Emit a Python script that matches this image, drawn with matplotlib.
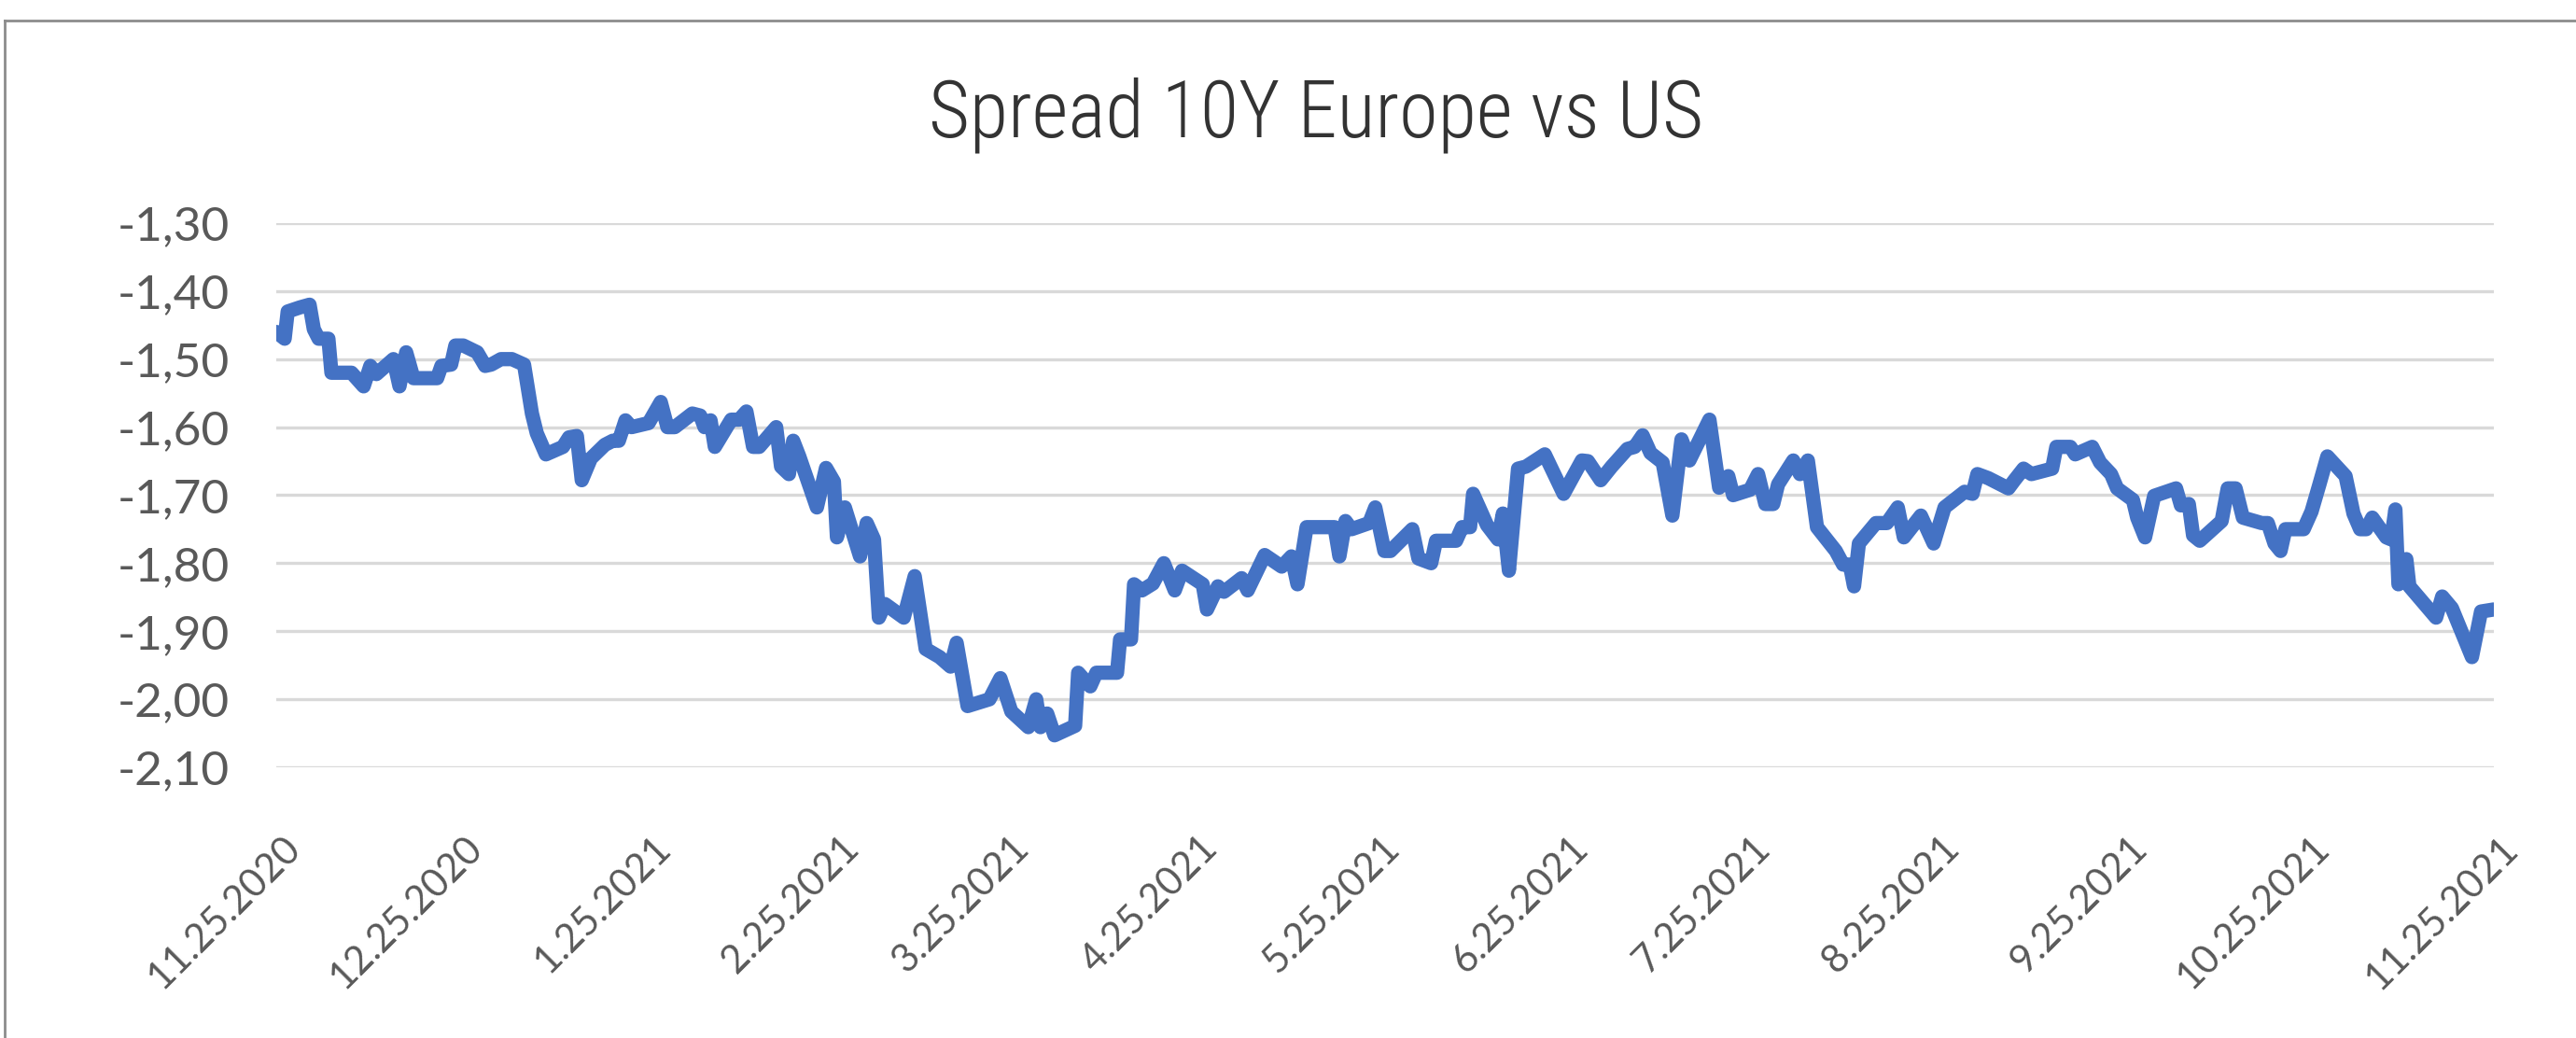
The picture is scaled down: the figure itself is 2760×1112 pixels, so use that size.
import matplotlib
matplotlib.use('Agg')
import matplotlib.pyplot as plt
from matplotlib.lines import Line2D
from matplotlib.transforms import ScaledTranslation
import pandas as pd

TITLE = 'Spread 10Y Europe vs US'
START = pd.Timestamp('2020-11-25')

# days after 11.25.2020 and spread (turning points)
days = [0.0, 1.4, 1.9, 3.9, 5.5, 6.2, 7.0, 8.6, 9.1, 12.4, 14.4, 15.5, 16.5, 19.3, 20.3,
        21.4, 22.6, 26.5, 27.2, 28.8, 29.5, 30.8, 33.1, 34.4, 35.4, 37.0, 38.8, 40.8,
        42.1, 42.9, 44.4, 47.2, 48.2, 49.5, 50.3, 51.8, 54.1, 55.4, 56.4, 57.5, 58.5,
        61.3, 63.3, 64.4, 65.6, 68.5, 69.8, 70.5, 71.5, 72.2, 74.9, 76.2, 77.4, 78.5,
        79.5, 82.3, 83.1, 84.4, 85.1, 86.1, 89.0, 90.5, 91.8, 92.3, 93.6, 96.1, 97.2,
        98.4, 99.2, 100.2, 103.3, 105.1, 106.9, 109.2, 111.0, 112.0, 113.8, 117.4,
        119.2, 121.0, 123.8, 125.1, 125.8, 126.9, 128.1, 131.5, 132.0, 134.0, 135.0,
        138.4, 138.9, 140.7, 141.2, 142.5, 144.3, 146.1, 147.9, 149.1, 152.5, 153.2,
        155.0, 156.0, 158.9, 159.9, 162.7, 165.5, 167.1, 168.1, 169.6, 174.2, 175.0,
        176.0, 177.0, 179.9, 180.9, 182.4, 183.4, 187.0, 188.0, 190.1, 190.9, 194.2,
        195.2, 196.5, 197.0, 199.3, 201.1, 201.9, 202.9, 204.4, 205.7, 208.8, 211.9,
        214.9, 215.9, 218.0, 219.8, 222.4, 223.6, 224.9, 226.2, 228.2, 229.8, 231.3,
        232.6, 235.9, 237.5, 239.0, 239.8, 242.6, 243.9, 245.1, 246.4, 247.2, 249.7,
        250.8, 252.1, 253.6, 256.7, 257.9, 259.0, 259.7, 260.5, 263.3, 265.1, 266.9,
        267.9, 270.7, 272.8, 274.6, 277.9, 279.2, 280.0, 281.8, 285.1, 286.1, 287.6,
        288.9, 292.3, 293.0, 295.3, 296.1, 298.9, 300.2, 302.0, 303.0, 305.6, 306.3,
        307.6, 309.1, 312.7, 313.5, 314.8, 315.5, 316.6, 320.2, 321.2, 322.5, 323.7,
        326.8, 327.8, 328.9, 329.9, 330.7, 333.7, 335.0, 336.3, 337.6, 340.6, 341.9,
        343.0, 344.0, 345.0, 347.3, 348.1, 348.8, 349.3, 350.6, 351.1, 355.5, 356.5,
        358.1, 361.4, 362.9, 365.0]
spread = [-1.460, -1.470, -1.430, -1.424, -1.420, -1.456, -1.470, -1.470, -1.520, -1.520,
          -1.540, -1.510, -1.522, -1.500, -1.540, -1.490, -1.528, -1.528, -1.510, -1.508,
          -1.480, -1.480, -1.490, -1.510, -1.508, -1.500, -1.500, -1.508, -1.580, -1.609,
          -1.640, -1.629, -1.615, -1.613, -1.678, -1.646, -1.626, -1.620, -1.620, -1.590,
          -1.600, -1.594, -1.563, -1.600, -1.600, -1.580, -1.583, -1.600, -1.590, -1.629,
          -1.589, -1.589, -1.577, -1.629, -1.629, -1.600, -1.658, -1.669, -1.620, -1.643,
          -1.718, -1.660, -1.680, -1.762, -1.718, -1.790, -1.741, -1.765, -1.880, -1.860,
          -1.880, -1.819, -1.926, -1.938, -1.952, -1.917, -2.010, -2.000, -1.969, -2.018,
          -2.041, -2.000, -2.041, -2.021, -2.053, -2.039, -1.961, -1.981, -1.961, -1.961,
          -1.912, -1.912, -1.831, -1.840, -1.830, -1.800, -1.840, -1.811, -1.831, -1.868,
          -1.834, -1.842, -1.822, -1.840, -1.788, -1.805, -1.790, -1.831, -1.747, -1.747,
          -1.790, -1.738, -1.750, -1.741, -1.718, -1.782, -1.782, -1.750, -1.793, -1.800,
          -1.767, -1.767, -1.747, -1.747, -1.698, -1.744, -1.765, -1.727, -1.811, -1.661,
          -1.658, -1.640, -1.698, -1.649, -1.650, -1.678, -1.658, -1.632, -1.629, -1.612,
          -1.638, -1.652, -1.730, -1.618, -1.649, -1.589, -1.689, -1.672, -1.700, -1.692,
          -1.669, -1.713, -1.713, -1.684, -1.649, -1.669, -1.649, -1.747, -1.782, -1.802,
          -1.802, -1.834, -1.771, -1.741, -1.741, -1.718, -1.762, -1.730, -1.771, -1.718,
          -1.695, -1.698, -1.669, -1.675, -1.690, -1.678, -1.661, -1.669, -1.661, -1.629,
          -1.629, -1.640, -1.629, -1.652, -1.669, -1.690, -1.707, -1.733, -1.762, -1.701,
          -1.690, -1.715, -1.713, -1.759, -1.767, -1.738, -1.690, -1.690, -1.733, -1.741,
          -1.741, -1.771, -1.782, -1.750, -1.750, -1.724, -1.684, -1.643, -1.672, -1.727,
          -1.750, -1.750, -1.733, -1.762, -1.765, -1.721, -1.831, -1.794, -1.834, -1.880,
          -1.849, -1.866, -1.938, -1.871, -1.868]

tick_dates = ['2020-11-25', '2020-12-25', '2021-01-25', '2021-02-25', '2021-03-25',
              '2021-04-25', '2021-05-25', '2021-06-25', '2021-07-25', '2021-08-25',
              '2021-09-25', '2021-10-25', '2021-11-25']
tick_labels = ['11.25.2020', '12.25.2020', '1.25.2021', '2.25.2021', '3.25.2021',
               '4.25.2021', '5.25.2021', '6.25.2021', '7.25.2021', '8.25.2021',
               '9.25.2021', '10.25.2021', '11.25.2021']
y_ticks = [-2.10, -2.00, -1.90, -1.80, -1.70, -1.60, -1.50, -1.40, -1.30]

dates = START + pd.to_timedelta(days, unit='D')

fig = plt.figure(figsize=(27.6, 11.12), dpi=100)
ax = fig.add_axes([0.1072, 0.2608, 0.8609, 0.5243])

ax.plot(dates, spread, color='#4472C4', lw=11, solid_joinstyle='round',
        solid_capstyle='round', zorder=3)

ax.set_xlim(pd.Timestamp(tick_dates[0]), pd.Timestamp(tick_dates[-1]))
ax.set_ylim(-2.10, -1.30)
ax.set_yticks(y_ticks)
ax.set_yticklabels([f'{v:.2f}'.replace('.', ',') for v in y_ticks])
ax.set_xticks(pd.to_datetime(tick_dates))
ax.set_xticklabels(tick_labels, rotation=45, ha='right', va='center',
                   rotation_mode='anchor')

ax.grid(axis='y', color='#d9d9d9', lw=2.4)
ax.set_axisbelow(True)
for s in ax.spines.values():
    s.set_visible(False)
ax.tick_params(axis='y', length=0, labelsize=37, labelcolor='#595959', pad=36)
ax.tick_params(axis='x', length=0, labelsize=30, labelcolor='#595959', pad=58)
shift = ScaledTranslation(14 / 72, 0, fig.dpi_scale_trans)
for lab in ax.get_xticklabels():
    lab.set_fontfamily('Lato')
    lab.set_transform(lab.get_transform() + shift)
for lab in ax.get_yticklabels():
    lab.set_fontfamily('Lato')

fig.text(0.511, 0.868, TITLE, ha='center', va='baseline', fontsize=61,
         family=['Roboto Condensed', 'Roboto'], fontweight='light', color='#333333')

# chart border (top and left edges visible in the crop)
fig.add_artist(Line2D([5 / 2760, 1], [1 - 22 / 1112, 1 - 22 / 1112],
                      transform=fig.transFigure, color='#8c8c8c', lw=2))
fig.add_artist(Line2D([5 / 2760, 5 / 2760], [0, 1 - 22 / 1112],
                      transform=fig.transFigure, color='#8c8c8c', lw=2))

fig.savefig('out.png', dpi=100)
